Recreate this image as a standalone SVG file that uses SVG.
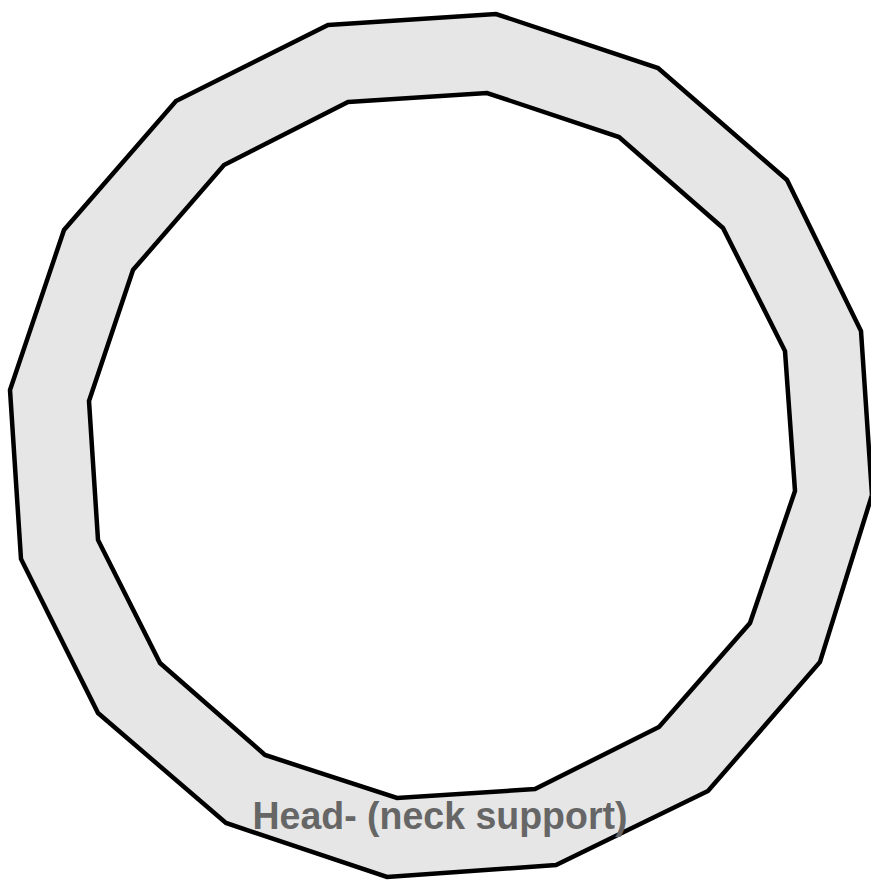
<svg xmlns="http://www.w3.org/2000/svg" width="871" height="882" viewBox="0 0 871 882">
<style>
.ring{fill:#e6e6e6;stroke:#000;stroke-width:4.5;stroke-linejoin:miter;fill-rule:evenodd}
.lbl{font-family:"Liberation Sans",Arial,sans-serif;font-weight:bold;font-size:38px;fill:#666}
</style>
<rect width="871" height="882" fill="#fff"/>
<g id="ring">
<path class="ring" d="M328,25 L496,14 L658,68 L787,180 L861,331 L872,495 L820,662 L708,791 L556,865 L387,877 L226,823 L98,713 L21,559 L10,390 L64,230 L176,101 Z M348,102 L487,93 L619,137 L723,228 L785,351 L795,491 L750,623 L659,727 L535,789 L397,798 L265,755 L160,663 L98,540 L89,401 L133,270 L224,165 Z"/>
</g>
<g id="label">
<text class="lbl" x="440" y="829" text-anchor="middle" textLength="375" lengthAdjust="spacingAndGlyphs">Head- (neck support)</text>
</g>
<g id="connectors"></g>
</svg>
